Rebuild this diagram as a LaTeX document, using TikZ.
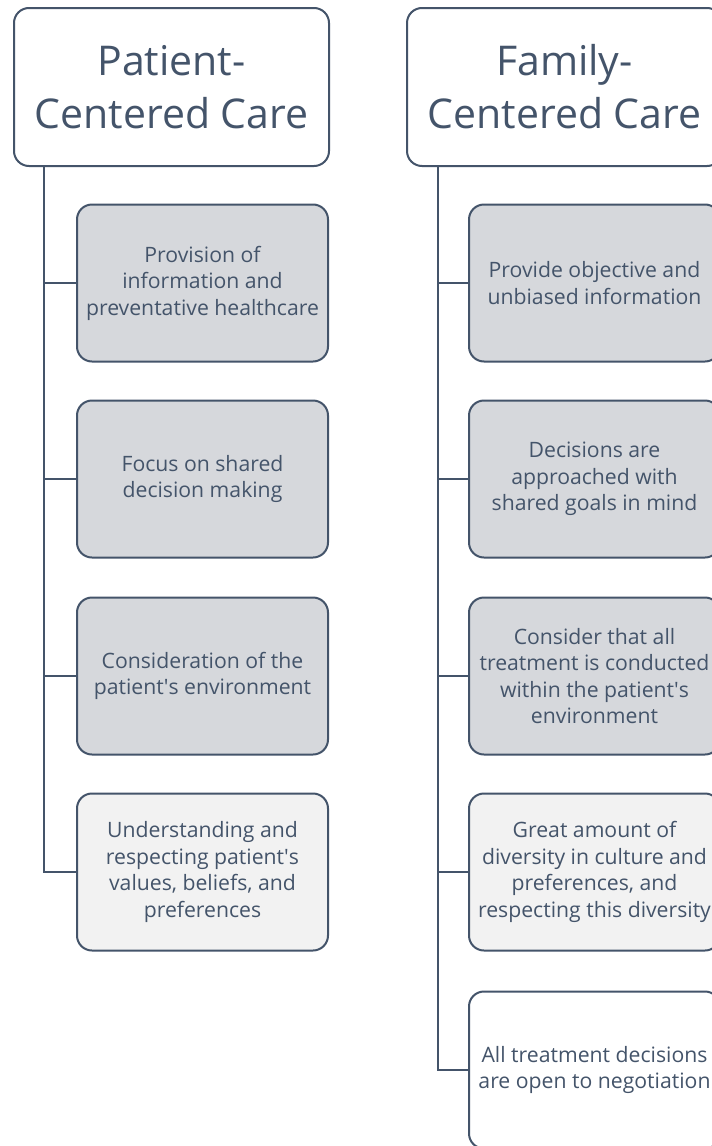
\documentclass[tikz,border=0pt]{standalone}
\usepackage{fontspec}
\setmainfont{Open Sans}
\usepackage{xcolor}
\usepackage{tikz}
\usetikzlibrary{positioning}

\definecolor{slate}{HTML}{44546A}
\definecolor{boxgray}{HTML}{D6D8DC}
\definecolor{boxlight}{HTML}{F2F2F2}

\begin{document}
\begin{tikzpicture}[x=1pt, y=-1pt,
    headbox/.style={draw=slate, line width=2pt, rounded corners=15pt, fill=white,
        minimum width=315pt, minimum height=158pt, align=center, text=slate,
        font=\fontsize{41}{53}\selectfont},
    itembox/.style={draw=slate, line width=2pt, rounded corners=15pt,
        minimum width=251pt, minimum height=157pt, align=center, text=slate,
        font=\fontsize{21.2}{26.5}\selectfont},
    trunk/.style={draw=slate, line width=2.5pt}]

    % =================================================================
    % 1. KHUNG ẢNH (cắt theo kích thước gốc)
    % =================================================================
    \clip (0,0) rectangle (712,1146);
    \fill[white] (0,0) rectangle (712,1146);

    % =================================================================
    % 2. HAI Ô TIÊU ĐỀ
    % =================================================================
    \node[headbox] (pcc) at (171.5,87) {Patient-\\Centered Care};
    \node[headbox] (fcc) at (564.5,87) {Family-\\Centered Care};

    % =================================================================
    % 3. CÁC Ô NỘI DUNG CỘT TRÁI
    % =================================================================
    \node[itembox, fill=boxgray] (p1) at (202.5,283) {Provision of\\information and\\preventative healthcare};
    \node[itembox, fill=boxgray] (p2) at (202.5,479) {Focus on shared\\decision making};
    \node[itembox, fill=boxgray] (p3) at (202.5,676) {Consideration of the\\patient\textquotesingle s environment};
    \node[itembox, fill=boxlight] (p4) at (202.5,872) {Understanding and\\respecting patient\textquotesingle s\\values, beliefs, and\\preferences};

    % =================================================================
    % 4. CÁC Ô NỘI DUNG CỘT PHẢI
    % =================================================================
    \node[itembox, fill=boxgray] (f1) at (594.5,283) {Provide objective and\\unbiased information};
    \node[itembox, fill=boxgray] (f2) at (594.5,479) {Decisions are\\approached with\\shared goals in mind};
    \node[itembox, fill=boxgray] (f3) at (594.5,676) {Consider that all\\treatment is conducted\\within the patient\textquotesingle s\\environment};
    \node[itembox, fill=boxlight] (f4) at (594.5,872) {Great amount of\\diversity in culture and\\preferences, and\\respecting this diversity};
    \node[itembox, fill=white] (f5) at (594.5,1070) {All treatment decisions\\are open to negotiation};

    % =================================================================
    % 5. ĐƯỜNG NỐI
    % =================================================================
    \coordinate (pt) at ([xshift=31]pcc.south west);
    \coordinate (ft) at ([xshift=32]fcc.south west);

    \draw[trunk] (pt) |- (p4.west);
    \draw[trunk] (pt |- p1.west) -- (p1.west);
    \draw[trunk] (pt |- p2.west) -- (p2.west);
    \draw[trunk] (pt |- p3.west) -- (p3.west);

    \draw[trunk] (ft) |- (f5.west);
    \draw[trunk] (ft |- f1.west) -- (f1.west);
    \draw[trunk] (ft |- f2.west) -- (f2.west);
    \draw[trunk] (ft |- f3.west) -- (f3.west);
    \draw[trunk] (ft |- f4.west) -- (f4.west);

\end{tikzpicture}
\end{document}
